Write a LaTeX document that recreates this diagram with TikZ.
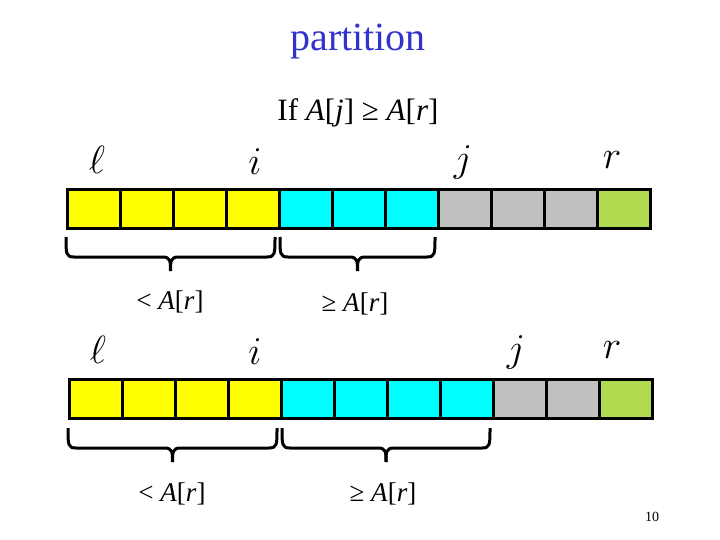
\documentclass[tikz,border=0pt]{standalone}
\usepackage{fontspec}
\setmainfont{Liberation Serif}
\definecolor{cyel}{RGB}{255,255,0}
\definecolor{ccya}{RGB}{0,255,255}
\definecolor{cgry}{RGB}{192,192,192}
\definecolor{cgrn}{RGB}{177,218,80}
\definecolor{ttl}{RGB}{51,51,204}
\tikzset{
 cell/.style={draw=black,line width=3pt,minimum width=53pt,minimum height=39pt,inner sep=0pt,anchor=north west},
 br/.style={line width=3pt,line join=round},
 lbl/.style={font=\fontsize{27}{30}\selectfont},
 var/.style={font=\fontsize{20}{24}\selectfont,scale=1.9}
}
\newcommand\mybrace[3]{% x1 x2 ytop
 \pgfmathsetmacro\mid{(#1+#2)/2}
 \draw[br] (#1,#3) .. controls (#1,#3+17) and (#1,#3+20) .. (#1+8,#3+20)
   -- (\mid-8,#3+20) .. controls (\mid,#3+20) and (\mid,#3+24) .. (\mid,#3+34);
 \draw[br] (#2,#3) .. controls (#2,#3+17) and (#2,#3+20) .. (#2-8,#3+20)
   -- (\mid+8,#3+20) .. controls (\mid,#3+20) and (\mid,#3+24) .. (\mid,#3+34);
}
\begin{document}
\begin{tikzpicture}[x=1pt,y=-1pt]
\useasboundingbox (0,0) rectangle (720,540);
\node[text=ttl,font=\fontsize{40}{44}\selectfont] (title) at (358,42) {partition};
\node[font=\fontsize{31}{34}\selectfont] (cond) at (358,113) {If \textit{A}[\textit{j}] ≥ \textit{A}[\textit{r}]};
% top row
\foreach \k/\c in {0/cyel,1/cyel,2/cyel,3/cyel,4/ccya,5/ccya,6/ccya,7/cgry,8/cgry,9/cgry,10/cgrn}
  \node[cell,fill=\c] (a\k) at ({66+53*\k},188) {};
\node[var] (l1) at (97,160) {$\ell$};
\node[var] (i1) at (255,162) {$i$};
\node[var] (j1) at (463,162) {$j$};
\node[var] (r1) at (612,160) {$r$};
\mybrace{66}{275}{237}
\mybrace{280}{435}{237}
\node[lbl] (lt1) at (170,302) {< \textit{A}[\textit{r}]};
\node[lbl] (ge1) at (355,304) {≥ \textit{A}[\textit{r}]};
% bottom row
\foreach \k/\c in {0/cyel,1/cyel,2/cyel,3/cyel,4/ccya,5/ccya,6/ccya,7/ccya,8/cgry,9/cgry,10/cgrn}
  \node[cell,fill=\c] (c\k) at ({68+53*\k},378) {};
\node[var] (l2) at (98,350) {$\ell$};
\node[var] (i2) at (255,352) {$i$};
\node[var] (j2) at (516,352) {$j$};
\node[var] (r2) at (612,350) {$r$};
\mybrace{68}{277}{428}
\mybrace{282}{490}{428}
\node[lbl] (lt2) at (172,494) {< \textit{A}[\textit{r}]};
\node[lbl] (ge2) at (383,494) {≥ \textit{A}[\textit{r}]};
\node[font=\fontsize{14}{16}\selectfont] (pg) at (652,517) {10};
\end{tikzpicture}
\end{document}
